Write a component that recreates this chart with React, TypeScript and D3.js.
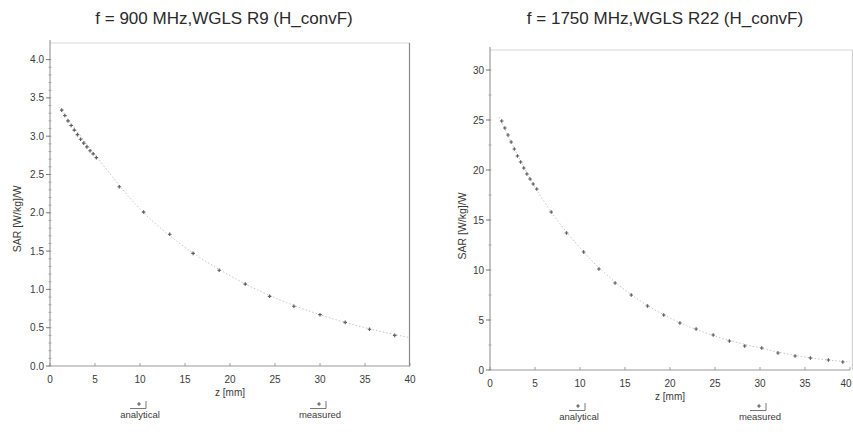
import { useEffect, useRef } from "react";
import * as d3 from "d3";

// ---- data ----
const leftTitle = "f = 900 MHz,WGLS R9 (H_convF)";
const rightTitle = "f = 1750 MHz,WGLS R22 (H_convF)";

const leftMeasZ = [1.3, 1.65, 2.0, 2.35, 2.7, 3.05, 3.4, 3.75, 4.1, 4.45, 4.8, 5.15,
  7.7, 10.4, 13.3, 15.9, 18.8, 21.7, 24.4, 27.1, 30.0, 32.8, 35.5, 38.3];
const leftMeasSar = [3.34, 3.27, 3.2, 3.14, 3.08, 3.02, 2.96, 2.91, 2.86, 2.81, 2.77, 2.72,
  2.34, 2.01, 1.72, 1.47, 1.25, 1.07, 0.91, 0.78, 0.67, 0.57, 0.48, 0.4];
const leftAnaZ = [1, 5, 10, 15, 20, 25, 30, 35, 40];
const leftAnaSar = [3.38, 2.76, 2.05, 1.55, 1.18, 0.89, 0.67, 0.5, 0.37];

const rightMeasZ = [1.3, 1.65, 2.0, 2.35, 2.7, 3.05, 3.4, 3.75, 4.1, 4.45, 4.8, 5.2,
  6.8, 8.5, 10.4, 12.1, 13.9, 15.7, 17.5, 19.3, 21.1, 22.9, 24.8, 26.6, 28.3, 30.2,
  32.0, 33.9, 35.6, 37.6, 39.2];
const rightMeasSar = [24.9, 24.2, 23.5, 22.8, 22.1, 21.4, 20.8, 20.2, 19.6, 19.1, 18.6, 18.1,
  15.8, 13.7, 11.8, 10.1, 8.7, 7.5, 6.4, 5.5, 4.7, 4.1, 3.5, 2.9, 2.4, 2.2,
  1.7, 1.4, 1.2, 1.0, 0.8];
const rightAnaZ = [1, 5, 10, 15, 20, 25, 30, 35, 40];
const rightAnaSar = [25.3, 18.3, 12.2, 8.0, 5.2, 3.4, 2.2, 1.3, 0.8];

const xTicks = [0, 5, 10, 15, 20, 25, 30, 35, 40];
const leftYTicks = [0, 0.5, 1, 1.5, 2, 2.5, 3, 3.5, 4];
const rightYTicks = [0, 5, 10, 15, 20, 25, 30];
const legendLabels = ["analytical", "measured"];

const FONT = "'Liberation Sans', Arial, sans-serif";
const INK = "#3a3a3a";
const MARK = "#5e5e5e";

interface PanelCfg {
  title: string;
  titleX: number;
  x0: number; x1: number;
  yBottom: number; yTop: number;
  yMax: number;
  axisTop: number;
  frameRight: number;
  yTicks: number[];
  yMinor: number;
  yFmt: (v: number) => string;
  measZ: number[]; measSar: number[];
  anaZ: number[]; anaSar: number[];
  yLabelX: number;
  legendX: number[];
  legendY: number;
}

const panels: PanelCfg[] = [
  {
    title: leftTitle, titleX: 224,
    x0: 50, x1: 410, yBottom: 366, yTop: 59.6, yMax: 4,
    axisTop: 40, frameRight: 410,
    yTicks: leftYTicks, yMinor: 0.1, yFmt: d3.format(".1f"),
    measZ: leftMeasZ, measSar: leftMeasSar, anaZ: leftAnaZ, anaSar: leftAnaSar,
    yLabelX: 21, legendX: [140, 320], legendY: 418,
  },
  {
    title: rightTitle, titleX: 665,
    x0: 490, x1: 850, yBottom: 370, yTop: 70, yMax: 30,
    axisTop: 47, frameRight: 853,
    yTicks: rightYTicks, yMinor: 2.5, yFmt: d3.format("d"),
    measZ: rightMeasZ, measSar: rightMeasSar, anaZ: rightAnaZ, anaSar: rightAnaSar,
    yLabelX: 466, legendX: [579, 760], legendY: 420,
  },
];

function drawPanel(g: d3.Selection<SVGGElement, unknown, null, undefined>, p: PanelCfg) {
  const x = d3.scaleLinear().domain([0, 40]).range([p.x0, p.x1]);
  const y = d3.scaleLinear().domain([0, p.yMax]).range([p.yBottom, p.yTop]);

  g.append("text")
    .attr("x", p.titleX).attr("y", 24)
    .attr("text-anchor", "middle")
    .attr("font-family", FONT).attr("font-size", 17)
    .attr("fill", "#2a2a2a")
    .text(p.title);

  // faint frame
  g.append("line")
    .attr("x1", p.x0).attr("x2", p.frameRight)
    .attr("y1", p.axisTop + 3).attr("y2", p.axisTop + 3)
    .attr("stroke", "#d8d8d8").attr("stroke-width", 1);
  g.append("line")
    .attr("x1", p.frameRight - 0.5).attr("x2", p.frameRight - 0.5)
    .attr("y1", p.axisTop + 3).attr("y2", p.yBottom)
    .attr("stroke", p.frameRight > 850 ? "#d0d0d0" : "#8a8a8a").attr("stroke-width", 1.2);

  // y axis
  g.append("line")
    .attr("x1", p.x0).attr("x2", p.x0)
    .attr("y1", p.yBottom).attr("y2", p.axisTop)
    .attr("stroke", "#8a8a8a").attr("stroke-width", 1);
  const minor = d3.range(0, p.yMax + 1e-9, p.yMinor);
  g.selectAll("line.ymin").data(minor).join("line")
    .attr("x1", p.x0 - 1.5).attr("x2", p.x0 + 1.5)
    .attr("y1", (d) => y(d)).attr("y2", (d) => y(d))
    .attr("stroke", "#9a9a9a").attr("stroke-width", 0.8);
  g.selectAll("line.ymaj").data(p.yTicks).join("line")
    .attr("x1", p.x0 - 4).attr("x2", p.x0)
    .attr("y1", (d) => y(d)).attr("y2", (d) => y(d))
    .attr("stroke", "#7a7a7a").attr("stroke-width", 1);
  g.selectAll("text.yt").data(p.yTicks).join("text")
    .attr("x", p.x0 - 6).attr("y", (d) => y(d) + 3.5)
    .attr("text-anchor", "end")
    .attr("font-family", FONT).attr("font-size", 10).attr("fill", INK)
    .text((d) => p.yFmt(d));

  g.append("text")
    .attr("transform", `translate(${p.yLabelX},${(p.yBottom + p.yTop) / 2 + 6}) rotate(-90)`)
    .attr("text-anchor", "middle")
    .attr("font-family", FONT).attr("font-size", 10.5).attr("fill", INK)
    .text("SAR [W/kg]/W");

  // x axis
  g.append("line")
    .attr("x1", p.x0).attr("x2", p.x1)
    .attr("y1", p.yBottom).attr("y2", p.yBottom)
    .attr("stroke", "#9a9a9a").attr("stroke-width", 1);
  g.selectAll("line.xt").data(xTicks).join("line")
    .attr("x1", (d) => x(d)).attr("x2", (d) => x(d))
    .attr("y1", p.yBottom).attr("y2", p.yBottom - 3)
    .attr("stroke", "#8a8a8a").attr("stroke-width", 0.8);
  g.selectAll("text.xtl").data(xTicks).join("text")
    .attr("x", (d) => Math.min(x(d), 846))
    .attr("y", p.yBottom + 17)
    .attr("text-anchor", "middle")
    .attr("font-family", FONT).attr("font-size", 10).attr("fill", INK)
    .text((d) => String(d));
  g.append("text")
    .attr("x", x(20)).attr("y", p.yBottom + 30)
    .attr("text-anchor", "middle")
    .attr("font-family", FONT).attr("font-size", 10).attr("fill", INK)
    .text("z [mm]");

  // analytical curve (faint dotted)
  const line = d3.line<number>()
    .x((_d, i) => x(p.anaZ[i]))
    .y((d) => y(d))
    .curve(d3.curveMonotoneX);
  g.append("path")
    .attr("d", line(p.anaSar))
    .attr("fill", "none")
    .attr("stroke", "#b8b8b8").attr("stroke-width", 0.8)
    .attr("stroke-dasharray", "1.5 2");

  // measured points
  const pts = p.measZ.map((z, i) => [z, p.measSar[i]] as [number, number]);
  const cross = (cx: number, cy: number, s: number) =>
    `M${cx - s},${cy}H${cx + s}M${cx},${cy - s}V${cy + s}`;
  g.selectAll("path.pt").data(pts).join("path")
    .attr("d", (d) => cross(x(d[0]), y(d[1]), 1.8))
    .attr("stroke", MARK).attr("stroke-width", 1.2).attr("fill", "none");

  // legend
  legendLabels.forEach((lab, i) => {
    const lx = p.legendX[i];
    const ly = p.legendY;
    g.append("path")
      .attr("d", cross(lx - 1, ly - 14, 1.8))
      .attr("stroke", "#555").attr("stroke-width", 1.2).attr("fill", "none");
    g.append("line")
      .attr("x1", lx - 10).attr("x2", lx + 6)
      .attr("y1", ly - 9.5).attr("y2", ly - 9.5)
      .attr("stroke", "#555").attr("stroke-width", 0.8);
    g.append("line")
      .attr("x1", lx + 6).attr("x2", lx + 6)
      .attr("y1", ly - 17).attr("y2", ly - 9.5)
      .attr("stroke", "#555").attr("stroke-width", 0.8);
    g.append("text")
      .attr("x", lx).attr("y", ly)
      .attr("text-anchor", "middle")
      .attr("font-family", FONT).attr("font-size", 9.5).attr("fill", INK)
      .text(lab);
  });
}

export default function App() {
  const svgRef = useRef<SVGSVGElement>(null);

  useEffect(() => {
    if (!svgRef.current) return;
    const svg = d3.select(svgRef.current);
    svg.selectAll("*").remove();
    svg.append("rect").attr("width", 853).attr("height", 432).attr("fill", "#fff");
    panels.forEach((p) => drawPanel(svg.append("g"), p));
  }, []);

  return (
    <div style={{ position: "absolute", left: 0, top: 0 }}>
      <svg ref={svgRef} width={853} height={432} style={{ display: "block" }} />
    </div>
  );
}
